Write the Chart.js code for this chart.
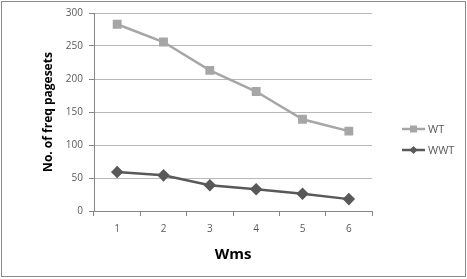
<!DOCTYPE html>
<html>
<head>
<meta charset="utf-8">
<script src="https://cdn.jsdelivr.net/npm/chart.js@4"></script>
<style>
  html, body { margin: 0; padding: 0; background: #fff; }
  #wrap { position: relative; width: 467px; height: 279px; }
  #frame {
    position: absolute; left: 1px; top: 1px; width: 465px; height: 276px;
    box-sizing: border-box; border: 1px solid #8a8a8a; pointer-events: none;
  }
</style>
</head>
<body>
<div id="wrap">
  <canvas id="chart" width="467" height="279"></canvas>
  <div id="frame"></div>
</div>
<script>
/* ---------- Data ---------- */
const categories = ["1", "2", "3", "4", "5", "6"];
const wtValues  = [283, 256, 213, 181, 139, 121];
const wwtValues = [59, 54, 39, 33, 26, 18];
const yTicks = [0, 50, 100, 150, 200, 250, 300];

const tickFont = { family: "'Open Sans', 'DejaVu Sans', sans-serif", size: 10 };
const titleFont = { family: "'Open Sans', 'DejaVu Sans', sans-serif", weight: "bold" };

/* ---------- Legend (line + marker, like the original) ---------- */
const lineLegend = {
  id: "lineLegend",
  afterDraw(chart) {
    const ctx = chart.ctx;
    const rows = [129, 150];
    chart.data.datasets.forEach((ds, i) => {
      const y = rows[i];
      ctx.save();
      ctx.strokeStyle = ds.borderColor;
      ctx.lineWidth = 2.5;
      ctx.beginPath();
      ctx.moveTo(402, y);
      ctx.lineTo(425, y);
      ctx.stroke();
      ctx.fillStyle = ds.pointBackgroundColor;
      ctx.beginPath();
      if (ds.pointStyle === "rect") {
        ctx.rect(410, y - 3.5, 7, 7);
      } else {
        ctx.moveTo(413.5, y - 4);
        ctx.lineTo(417.5, y);
        ctx.lineTo(413.5, y + 4);
        ctx.lineTo(409.5, y);
        ctx.closePath();
      }
      ctx.fill();
      ctx.fillStyle = "#595959";
      ctx.font = "11px 'Open Sans', 'DejaVu Sans', sans-serif";
      ctx.textBaseline = "middle";
      ctx.textAlign = "left";
      ctx.fillText(ds.label, 428, y + 1);
      ctx.restore();
    });
  }
};

/* ---------- Chart ---------- */
new Chart(document.getElementById("chart"), {
  type: "line",
  data: {
    labels: categories,
    datasets: [
      {
        label: "WT",
        data: wtValues,
        borderColor: "#a6a6a6",
        backgroundColor: "#a6a6a6",
        pointBackgroundColor: "#a6a6a6",
        pointBorderColor: "#a6a6a6",
        borderWidth: 2.5,
        pointStyle: "rect",
        pointRadius: 4.5,
        tension: 0
      },
      {
        label: "WWT",
        data: wwtValues,
        borderColor: "#595959",
        backgroundColor: "#595959",
        pointBackgroundColor: "#595959",
        pointBorderColor: "#595959",
        borderWidth: 2.5,
        pointStyle: "rectRot",
        pointRadius: 4.5,
        tension: 0
      }
    ]
  },
  options: {
    responsive: false,
    animation: false,
    layout: { padding: { top: 13, right: 95, left: 0, bottom: 0 } },
    plugins: { legend: { display: false }, tooltip: { enabled: false } },
    scales: {
      x: {
        offset: true,
        grid: { offset: true, drawOnChartArea: false, drawTicks: true, tickLength: 5, color: "#868686" },
        border: { color: "#868686", width: 1 },
        ticks: { color: "#595959", font: tickFont, padding: 7, maxRotation: 0 },
        title: { display: true, text: "Wms", color: "#000", font: { ...titleFont, size: 15 }, padding: { top: 0, bottom: 15 } },
        afterFit: s => { s.height = 279 - 211; }
      },
      y: {
        min: 0,
        max: 300,
        afterBuildTicks: s => { s.ticks = yTicks.map(v => ({ value: v })); },
        grid: { color: "#b8b8b8", tickLength: 5, tickColor: "#868686" },
        border: { color: "#868686", width: 1 },
        ticks: { color: "#595959", font: tickFont, padding: 6 },
        title: { display: true, text: "No. of freq pagesets", color: "#000", font: { ...titleFont, size: 12 }, padding: { top: 41, bottom: 0 } },
        afterFit: s => { s.width = 94; }
      }
    }
  },
  plugins: [lineLegend]
});
</script>
</body>
</html>
